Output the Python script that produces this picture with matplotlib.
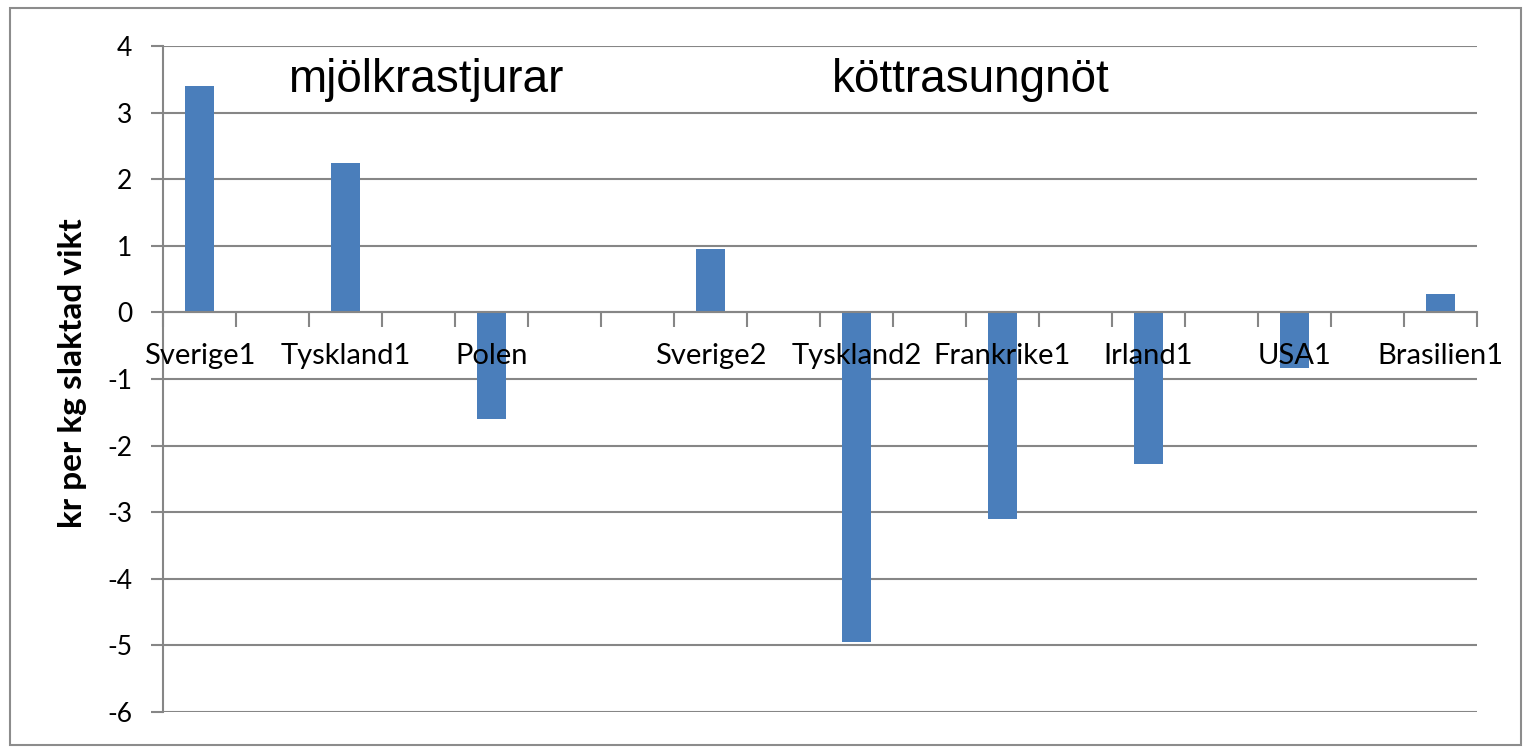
import matplotlib.pyplot as plt
import numpy as np
from matplotlib.patches import Rectangle

plt.rcParams['axes.unicode_minus'] = False

# category slots as in the spreadsheet (blank rows give the gaps)
categories = ['Sverige1', '', 'Tyskland1', '', 'Polen', '', '', 'Sverige2', '',
              'Tyskland2', '', 'Frankrike1', '', 'Irland1', '', 'USA1', '',
              'Brasilien1']
values = [3.40, None, 2.24, None, -1.60, None, None, 0.95, None,
          -4.95, None, -3.10, None, -2.28, None, -0.83, None, 0.28]
group_labels = ['mjölkrastjurar', 'köttrasungnöt']
yticks = [4, 3, 2, 1, 0, -1, -2, -3, -4, -5, -6]

gridcol = '#868686'
barcol = '#4a7ebb'
tickfont = ['Lato', 'DejaVu Sans']

fig = plt.figure(figsize=(15.26, 7.47), dpi=100)
ax = fig.add_axes([163/1526, 1 - 712/747, (1477 - 163)/1526, (712 - 46)/747])

x = np.arange(len(categories))
y = np.array([np.nan if v is None else v for v in values])
# bars under the axis so the category labels print over them
ax.bar(x, np.nan_to_num(y), width=0.4, color=barcol, zorder=2)

ax.set_xlim(-0.5, len(categories) - 0.5)
ax.set_ylim(min(yticks), max(yticks))

# horizontal gridlines
ax.set_yticks(yticks)
ax.yaxis.grid(True, color=gridcol, linewidth=1.5)
ax.set_axisbelow(False)
ax.tick_params(axis='y', length=9, width=1.5, color=gridcol, pad=13,
               labelsize=19, labelcolor='black')
for lab in ax.get_yticklabels():
    lab.set_family(tickfont)
for gl in ax.yaxis.get_gridlines():
    gl.set_zorder(0.5)

# x axis sits on zero, tick marks at category borders
for s in ['top', 'right']:
    ax.spines[s].set_visible(False)
ax.spines['left'].set_color(gridcol)
ax.spines['left'].set_linewidth(1.5)
ax.spines['bottom'].set_position(('data', 0))
ax.spines['bottom'].set_color(gridcol)
ax.spines['bottom'].set_linewidth(1.5)
ax.set_xticks(np.arange(len(categories) + 1) - 0.5)
ax.set_xticklabels([])
ax.tick_params(axis='x', which='major', direction='out', length=11,
               width=1.5, color=gridcol)
shown = [i for i, c in enumerate(categories) if c]
ax.set_xticks(shown, minor=True)
ax.set_xticklabels([categories[i] for i in shown], minor=True,
                   family=tickfont, fontsize=21)
ax.tick_params(axis='x', which='minor', length=0, pad=22)
ax.xaxis.set_zorder(3)
ax.yaxis.set_zorder(1)

ax.set_ylabel('kr per kg slaktad vikt', family=tickfont, fontsize=24,
              fontweight='bold')
ax.yaxis.set_label_coords(73/1526, 0.5, transform=fig.transFigure)
ax.yaxis.label.set_va('center')

# group headings
ax.text(288/1526, 1 - 92/747, group_labels[0], transform=fig.transFigure,
        family='Liberation Sans', fontsize=33, va='baseline', ha='left')
ax.text(832/1526, 1 - 92/747, group_labels[1], transform=fig.transFigure,
        family='Liberation Sans', fontsize=33, va='baseline', ha='left')

# outer chart border
fig.patches.append(Rectangle((10/1526, 2/747), 1511/1526, 737/747,
                             transform=fig.transFigure, fill=False,
                             edgecolor='#8c8c8c', linewidth=1.5))

fig.savefig('out.png', dpi=100)
